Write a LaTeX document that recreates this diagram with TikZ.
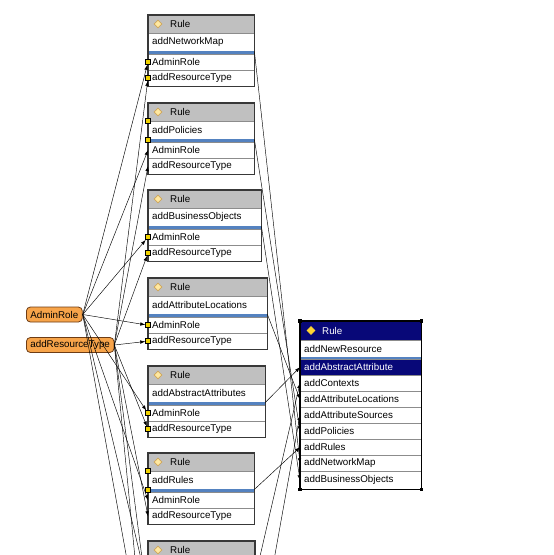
\documentclass[tikz,border=0pt]{standalone}
\usepackage{fontspec}
\setmainfont{Liberation Sans}
\usepackage{xcolor}
\usetikzlibrary{arrows.meta,positioning,shapes.geometric}
\definecolor{headgray}{RGB}{192,192,192}
\definecolor{framegray}{RGB}{56,56,56}
\definecolor{rowline}{RGB}{140,140,140}
\definecolor{sepblue}{RGB}{84,130,192}
\definecolor{navy}{RGB}{8,8,120}
\definecolor{termfill}{RGB}{247,164,74}
\definecolor{termedge}{RGB}{110,60,20}
\definecolor{portyellow}{RGB}{240,210,0}
\definecolor{gemfill}{RGB}{255,232,160}
\definecolor{gemedge}{RGB}{205,165,90}
\definecolor{gemgold}{RGB}{255,214,50}

\begin{document}
\begin{tikzpicture}[x=1pt, y=-1pt,
  rulehead/.style={anchor=north west, fill=headgray, draw=rowline, text width=#1, align=left,
    inner xsep=4pt, inner ysep=0pt, minimum height=18pt, font=\fontsize{9.8}{11}\selectfont},
  cell/.style={anchor=north west, fill=white, draw=rowline, text width=#1, align=left,
    inner xsep=4pt, inner ysep=0pt, minimum height=16pt, font=\fontsize{9.8}{11}\selectfont},
  term/.style={anchor=west, rounded corners=4pt, fill=termfill, draw=termedge, line width=0.8pt,
    inner xsep=4pt, inner ysep=0pt, minimum height=15pt, font=\fontsize{9.8}{11}\selectfont},
  gem/.style={diamond, fill=gemfill, draw=gemedge, line width=0.6pt, minimum size=8pt, inner sep=0pt},
  port/.style={rectangle, fill=portyellow, draw=black, line width=0.5pt, minimum size=5pt, inner sep=0pt},
  grip/.style={rectangle, fill=black, minimum size=3.5pt, inner sep=0pt},
  boxframe/.style={draw=framegray, line width=1.8pt},
  bluebar/.style={draw=sepblue, line width=3pt},
  link/.style={-{Latex[length=5pt,width=3.5pt]}, line width=0.45pt}
]
\useasboundingbox (0,0) rectangle (554,555);
\clip (0,0) rectangle (554,555);

% parameters
\node[term] (admin) at (26,314.5) {AdminRole};
\node[term] (restype) at (26,345) {addResourceType};

% rule 1
\node[rulehead=98pt] (h1) at (148,15) {\hspace*{18pt}Rule};
\node[gem] (g1) at (158,24) {};
\node[cell=98pt, minimum height=18pt] (t1) at (148,33) {addNetworkMap};
\node[cell=98pt] (a1) at (148,54) {AdminRole};
\node[cell=98pt] (b1) at (148,70) {addResourceType};
\draw[bluebar] (148,52.5) -- (255,52.5);
\draw[boxframe] (h1.north west) rectangle (b1.south east);
\node[port] (p1a) at (a1.west) {};
\node[port] (p1b) at (b1.west) {};

% rule 2
\node[rulehead=98pt] (h2) at (148,103) {\hspace*{18pt}Rule};
\node[gem] (g2) at (158,112) {};
\node[cell=98pt, minimum height=18pt] (t2) at (148,121) {addPolicies};
\node[cell=98pt] (a2) at (148,142) {AdminRole};
\node[cell=98pt] (b2) at (148,158) {addResourceType};
\draw[bluebar] (148,140.5) -- (255,140.5);
\draw[boxframe] (h2.north west) rectangle (b2.south east);
\node[port] (p2a) at (t2.north west) {};
\node[port] (p2b) at (t2.south west) {};

% rule 3
\node[rulehead=105pt] (h3) at (148,190) {\hspace*{18pt}Rule};
\node[gem] (g3) at (158,199) {};
\node[cell=105pt, minimum height=18pt] (t3) at (148,208) {addBusinessObjects};
\node[cell=105pt] (a3) at (148,229) {AdminRole};
\node[cell=105pt] (b3) at (148,245) {addResourceType};
\draw[bluebar] (148,227.5) -- (262,227.5);
\draw[boxframe] (h3.north west) rectangle (b3.south east);
\node[port] (p3a) at (a3.west) {};
\node[port] (p3b) at (b3.west) {};

% rule 4
\node[rulehead=111pt] (h4) at (148,278) {\hspace*{18pt}Rule};
\node[gem] (g4) at (158,287) {};
\node[cell=111pt, minimum height=18pt] (t4) at (148,296) {addAttributeLocations};
\node[cell=111pt] (a4) at (148,317) {AdminRole};
\node[cell=111pt] (b4) at (148,333) {addResourceType};
\draw[bluebar] (148,315.5) -- (268,315.5);
\draw[boxframe] (h4.north west) rectangle (b4.south east);
\node[port] (p4a) at (a4.west) {};
\node[port] (p4b) at (b4.west) {};

% rule 5
\node[rulehead=109pt] (h5) at (148,366) {\hspace*{18pt}Rule};
\node[gem] (g5) at (158,375) {};
\node[cell=109pt, minimum height=18pt] (t5) at (148,384) {addAbstractAttributes};
\node[cell=109pt] (a5) at (148,405) {AdminRole};
\node[cell=109pt] (b5) at (148,421) {addResourceType};
\draw[bluebar] (148,403.5) -- (266,403.5);
\draw[boxframe] (h5.north west) rectangle (b5.south east);
\node[port] (p5a) at (a5.west) {};
\node[port] (p5b) at (b5.west) {};

% rule 6
\node[rulehead=98pt] (h6) at (148,453) {\hspace*{18pt}Rule};
\node[gem] (g6) at (158,462) {};
\node[cell=98pt, minimum height=18pt] (t6) at (148,471) {addRules};
\node[cell=98pt] (a6) at (148,492) {AdminRole};
\node[cell=98pt] (b6) at (148,508) {addResourceType};
\draw[bluebar] (148,490.5) -- (255,490.5);
\draw[boxframe] (h6.north west) rectangle (b6.south east);
\node[port] (p6a) at (t6.north west) {};
\node[port] (p6b) at (t6.south west) {};

% rule 7 (cut off) and the ones below
\node[rulehead=98pt] (h7) at (148,541) {\hspace*{18pt}Rule};
\node[gem] (g7) at (158,550) {};
\draw[boxframe] (h7.north west) rectangle (255,612);
\coordinate (q7a) at (148,588);
\coordinate (q7b) at (148,604);
\coordinate (s7) at (255,578);
\coordinate (q8a) at (148,676);
\coordinate (q8b) at (148,692);
\coordinate (s8) at (255,666);

% selected rule
\node[rulehead=113pt, fill=navy, text=white, minimum height=19pt] (rh) at (300,321) {\hspace*{18pt}Rule};
\node[gem, fill=gemgold, draw=gemgold] (rg) at (311,330.5) {};
\node[cell=113pt, minimum height=17pt] (rt) at (300,340) {addNewResource};
\draw[bluebar] (300,358) -- (421.5,358);
\node[cell=113pt, fill=navy, text=white] (ra) at (300,359) {addAbstractAttribute};
\node[cell=113pt] (rc) at (300,375) {addContexts};
\node[cell=113pt] (rl) at (300,391) {addAttributeLocations};
\node[cell=113pt] (rs) at (300,407) {addAttributeSources};
\node[cell=113pt] (rp) at (300,423) {addPolicies};
\node[cell=113pt] (rr) at (300,439) {addRules};
\node[cell=113pt] (rn) at (300,455) {addNetworkMap};
\node[cell=113pt, minimum height=18pt] (rb) at (300,471) {addBusinessObjects};
\draw[draw=black, line width=1.2pt] (rh.north west) rectangle (rb.south east);
\node[grip] (k1) at (rh.north west) {};
\node[grip] (k2) at (rh.north east) {};
\node[grip] (k3) at (rb.south west) {};
\node[grip] (k4) at (rb.south east) {};

% AdminRole links
\draw[link] (admin.east) -- (p1a);
\draw[link] (admin.east) -- (a2.west);
\draw[link] (admin.east) -- (p3a);
\draw[link] (admin.east) -- (p4a);
\draw[link] (admin.east) -- (p5a);
\draw[link] (admin.east) -- (a6.west);
\draw[link] (admin.east) -- (q7a);
\draw[link] (admin.east) -- (q8a);

% addResourceType links
\draw[link] (restype.east) -- (p1b);
\draw[link] (restype.east) -- (b2.west);
\draw[link] (restype.east) -- (p3b);
\draw[link] (restype.east) -- (p4b);
\draw[link] (restype.east) -- (p5b);
\draw[link] (restype.east) -- (b6.west);
\draw[link] (restype.east) -- (q7b);
\draw[link] (restype.east) -- (q8b);

% rules into the selected rule
\draw[link] (t1.south east) -- (rn.west);
\draw[link] (t2.south east) -- (rp.west);
\draw[link] (t3.south east) -- (rb.west);
\draw[link] (t4.south east) -- (rl.west);
\draw[link] (t5.south east) -- (ra.west);
\draw[link] (t6.south east) -- (rr.west);
\draw[link] (s7) -- (rc.west);
\draw[link] (s8) -- (rs.west);
\end{tikzpicture}
\end{document}
